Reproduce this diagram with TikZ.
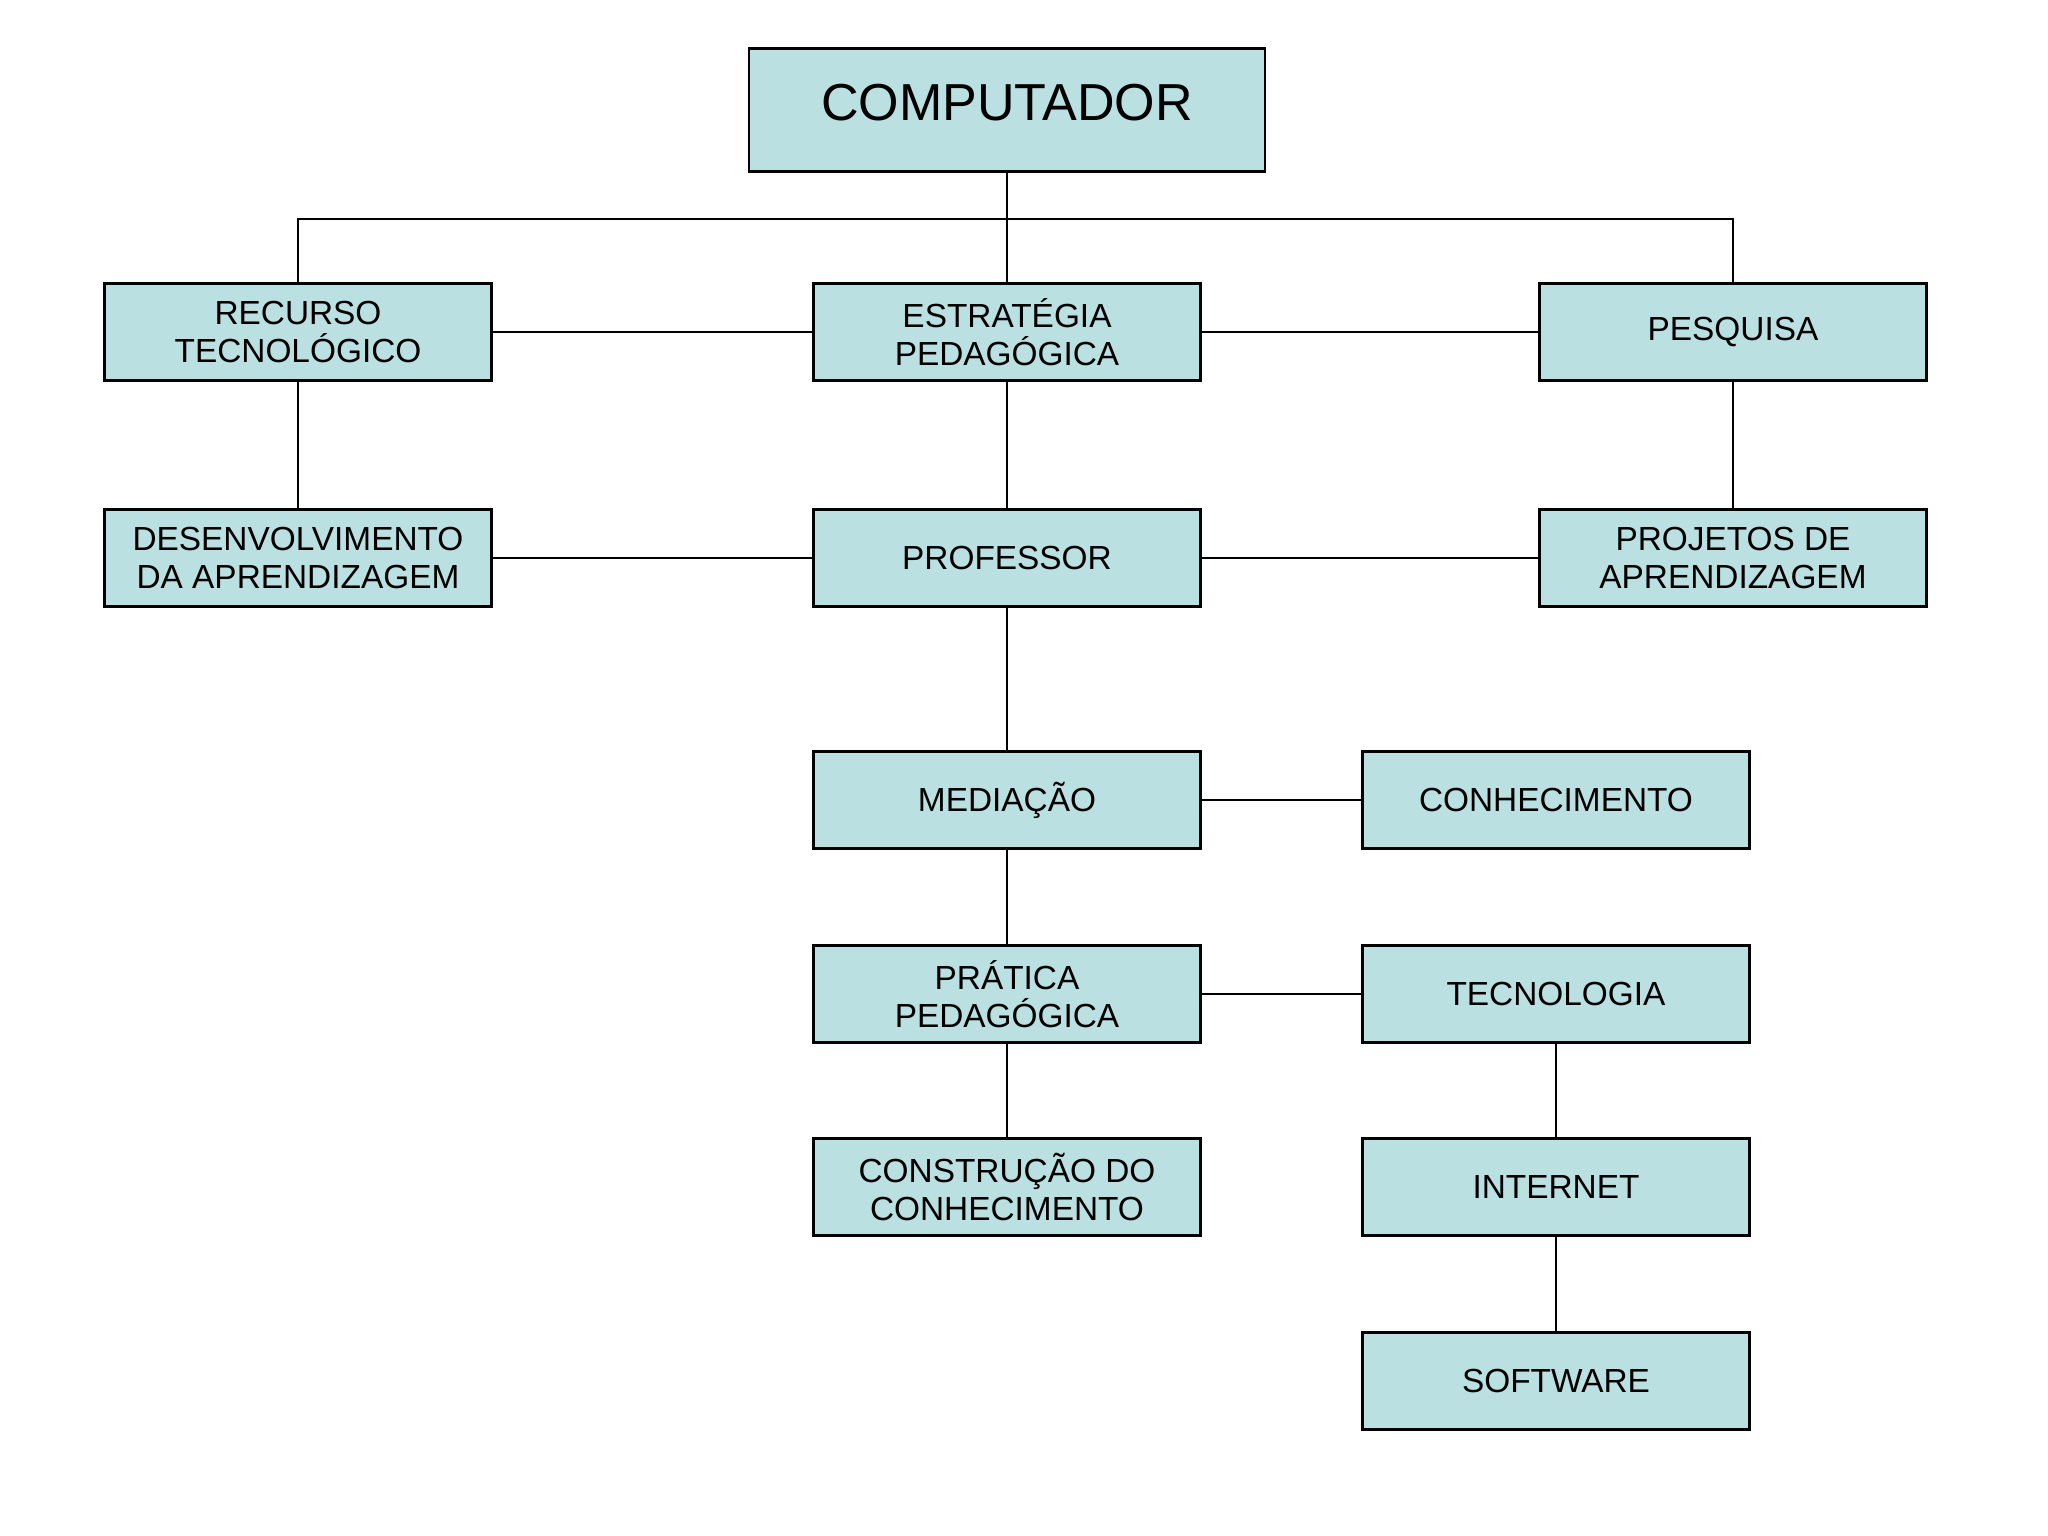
\documentclass[tikz,border=0pt]{standalone}
\usepackage{fontspec}
\setmainfont{Liberation Sans}
\usetikzlibrary{positioning}
\definecolor{boxfill}{RGB}{186,224,226}

\begin{document}
\begin{tikzpicture}[line width=0.8pt,
    box/.style={draw, fill=boxfill, minimum width=3.87cm, minimum height=0.97cm,
                align=center, inner sep=2pt, font=\fontsize{9.5}{10.8}\selectfont},
    topbox/.style={box, minimum width=5.16cm, minimum height=1.23cm, text depth=0.16cm,
                font=\fontsize{14.8}{16}\selectfont}]
    \useasboundingbox (0,0) rectangle (20.48,-15.36);
    \node[topbox] (comp) at (10.07,-1.10) {COMPUTADOR};
    \node[box] (rec)  at (2.98,-3.32)  {RECURSO\\TECNOLÓGICO};
    \node[box] (est)  at (10.07,-3.32) {ESTRATÉGIA\\PEDAGÓGICA};
    \node[box] (pes)  at (17.33,-3.32) {PESQUISA};
    \node[box] (des)  at (2.98,-5.58)  {DESENVOLVIMENTO\\DA APRENDIZAGEM};
    \node[box] (prof) at (10.07,-5.58) {PROFESSOR};
    \node[box] (proj) at (17.33,-5.58) {PROJETOS DE\\APRENDIZAGEM};
    \node[box] (med)  at (10.07,-8.00) {MEDIAÇÃO};
    \node[box] (con)  at (15.56,-8.00) {CONHECIMENTO};
    \node[box] (prat) at (10.07,-9.94) {PRÁTICA\\PEDAGÓGICA};
    \node[box] (tec)  at (15.56,-9.94) {TECNOLOGIA};
    \node[box] (cons) at (10.07,-11.87) {CONSTRUÇÃO DO\\CONHECIMENTO};
    \node[box] (int)  at (15.56,-11.87) {INTERNET};
    \node[box] (soft) at (15.56,-13.81) {SOFTWARE};
    \coordinate (bar) at (10.07,-2.19);

    \draw (comp) -- (est);
    \draw (rec.north) |- (bar) -| (pes.north);
    \draw (rec) -- (est);
    \draw (est) -- (pes);
    \draw (rec) -- (des);
    \draw (est) -- (prof);
    \draw (pes) -- (proj);
    \draw (des) -- (prof);
    \draw (prof) -- (proj);
    \draw (prof) -- (med);
    \draw (med) -- (con);
    \draw (med) -- (prat);
    \draw (prat) -- (tec);
    \draw (prat) -- (cons);
    \draw (tec) -- (int);
    \draw (int) -- (soft);
\end{tikzpicture}
\end{document}
